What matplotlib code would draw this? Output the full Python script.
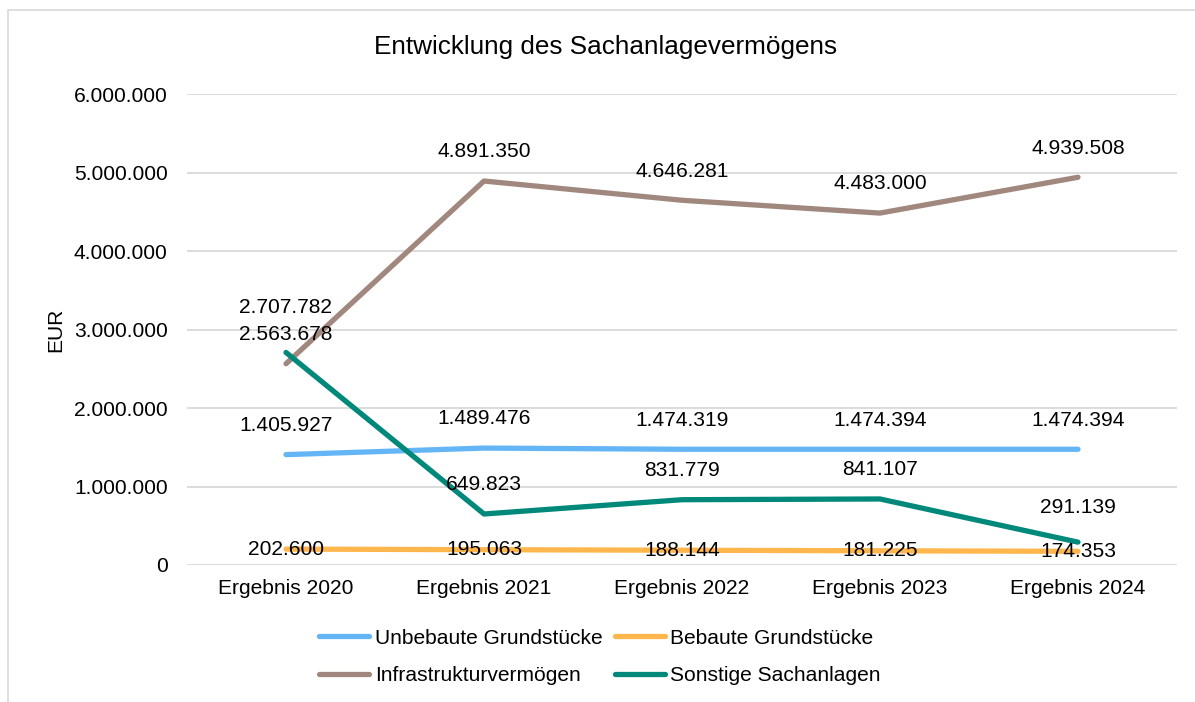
import matplotlib.pyplot as plt
from matplotlib.patches import Rectangle
from matplotlib.ticker import FuncFormatter

plt.rcParams['font.family'] = ['Liberation Sans', 'DejaVu Sans']

jahre = ['Ergebnis 2020', 'Ergebnis 2021', 'Ergebnis 2022', 'Ergebnis 2023', 'Ergebnis 2024']
unbebaut = [1405927, 1489476, 1474319, 1474394, 1474394]
bebaut = [202600, 195063, 188144, 181225, 174353]
infrastruktur = [2563678, 4891350, 4646281, 4483000, 4939508]
sonstige = [2707782, 649823, 831779, 841107, 291139]

serien = [
    ('Unbebaute Grundstücke', unbebaut, '#64b5f6'),
    ('Bebaute Grundstücke', bebaut, '#ffb74d'),
    ('Infrastrukturvermögen', infrastruktur, '#a1887f'),
    ('Sonstige Sachanlagen', sonstige, '#00897b'),
]

# label offsets in points above each point (Excel shifts some to avoid overlap)
offsets = {
    'Unbebaute Grundstücke': [21, 21, 21, 21, 21],
    'Bebaute Grundstücke': [0, 0, 0, 0, 0],
    'Infrastrukturvermögen': [21, 21, 21, 21, 21],
    'Sonstige Sachanlagen': [32, 21, 21, 21, 25],
}

fs = 15.1


def de_format(v, pos=None):
    return f'{int(round(v)):,}'.replace(',', '.')


fig = plt.figure(figsize=(11.95, 7.02), dpi=100)
ax = fig.add_axes([187 / 1195, 137 / 702, 990 / 1195, 471 / 702])

x = range(len(jahre))
linien = {}
for name, werte, farbe in serien:
    linien[name], = ax.plot(x, werte, color=farbe, lw=3.8, solid_capstyle='round', label=name)
for name, werte, farbe in serien:
    for i, v in enumerate(werte):
        ax.annotate(de_format(v), (i, v), xytext=(0, offsets[name][i]),
                    textcoords='offset points', ha='center', va='center',
                    fontsize=fs, color='#000000')

ax.set_xlim(-0.5, len(jahre) - 0.5)
ax.set_ylim(0, 6000000)
ax.set_yticks(range(0, 6000001, 1000000))
ax.yaxis.set_major_formatter(FuncFormatter(de_format))
ax.set_xticks(list(x))
ax.set_xticklabels(jahre)
ax.tick_params(axis='both', length=0, labelsize=fs, colors='#000000')
ax.tick_params(axis='x', pad=10)
ax.tick_params(axis='y', pad=14)
ax.grid(axis='y', color='#d9d9d9', lw=1.3)
ax.set_axisbelow(True)
for s in ax.spines.values():
    s.set_visible(False)
ax.set_ylabel('EUR', fontsize=fs, labelpad=6)

fig.text(606 / 1195, 1 - 47 / 702, 'Entwicklung des Sachanlagevermögens', fontsize=18.8,
         ha='center', va='center')

# Excel fills the legend row by row
reihenfolge = ['Unbebaute Grundstücke', 'Infrastrukturvermögen',
               'Bebaute Grundstücke', 'Sonstige Sachanlagen']
fig.legend([linien[n] for n in reihenfolge], reihenfolge,
           loc='center', bbox_to_anchor=(600 / 1195, 1 - 657 / 702), ncol=2,
           frameon=False, fontsize=fs, handlelength=2.4, handletextpad=0.25,
           columnspacing=0.6, labelspacing=0.9)

fig.patches.append(Rectangle((8 / 1195, -0.1), 1.2, 1 - 10 / 702 + 0.1,
                             transform=fig.transFigure, fill=False,
                             edgecolor='#d9d9d9', lw=1.2))

fig.savefig('out.png', dpi=100)
